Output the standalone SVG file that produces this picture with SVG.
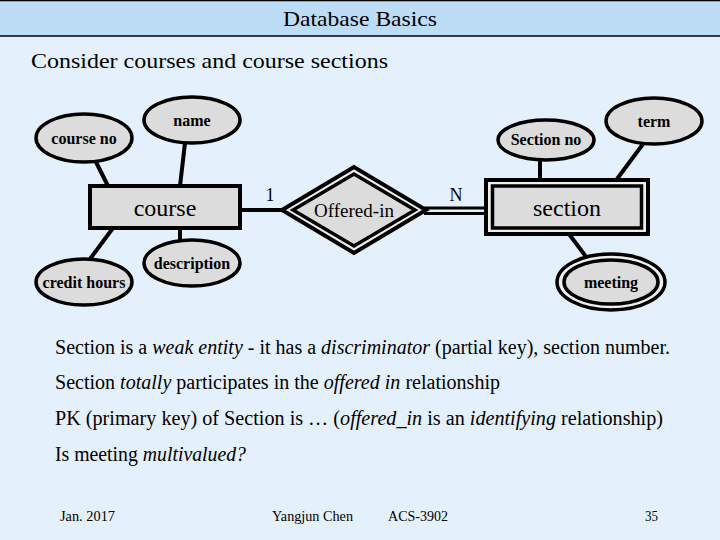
<svg xmlns="http://www.w3.org/2000/svg" width="720" height="540" viewBox="0 0 720 540">
<style>
.t{font-family:"Liberation Serif","Times New Roman","DejaVu Serif",serif;fill:#000}
.lbl{font-size:16px;font-weight:bold;text-anchor:middle}
.ent{font-size:24px;text-anchor:middle}
.att{fill:#dcdcdc;stroke:#000;stroke-width:3.5}
.ln{stroke:#000;stroke-width:4;fill:none}
.body{font-size:20px}
.ft{font-size:14px}
</style>
<rect x="0" y="0" width="720" height="540" fill="#e4f0fb"/>
<rect x="0" y="0" width="720" height="36" fill="#bddcf5"/>
<line x1="0" y1="0.5" x2="720" y2="0.5" stroke="#000" stroke-width="1.5"/>
<line x1="0" y1="36" x2="720" y2="36" stroke="#000" stroke-width="1.5"/>
<text class="t" x="360" y="26" font-size="22" text-anchor="middle" textLength="154" lengthAdjust="spacingAndGlyphs">Database Basics</text>
<text class="t" x="31" y="68" font-size="22" textLength="357" lengthAdjust="spacingAndGlyphs">Consider courses and course sections</text>

<g id="connectors">
<line class="ln" x1="96" y1="162" x2="108" y2="186"/>
<line class="ln" x1="185" y1="143" x2="180" y2="186"/>
<line class="ln" x1="113" y1="228" x2="90" y2="259"/>
<line class="ln" x1="180" y1="228" x2="180" y2="240"/>
<line class="ln" x1="241" y1="210" x2="283" y2="210"/>
<line stroke="#000" stroke-width="3" x1="424" y1="208" x2="485" y2="208"/>
<line stroke="#000" stroke-width="3" x1="424" y1="213.5" x2="485" y2="213.5"/>
<line class="ln" x1="540" y1="160" x2="540" y2="179"/>
<line class="ln" x1="643" y1="144" x2="617" y2="179"/>
<line class="ln" x1="569" y1="234" x2="587" y2="258"/>
<text class="t" x="270" y="201" font-size="18" text-anchor="middle">1</text>
<text class="t" x="456" y="201" font-size="18" text-anchor="middle">N</text>
</g>

<g id="course_no">
<ellipse class="att" cx="84" cy="138" rx="48" ry="24"/>
<text class="t lbl" x="84" y="144">course no</text>
</g>
<g id="name">
<ellipse class="att" cx="192" cy="120" rx="48" ry="23"/>
<text class="t lbl" x="192" y="126">name</text>
</g>
<g id="course">
<rect x="90" y="186" width="150" height="42" fill="#dcdcdc" stroke="#000" stroke-width="4"/>
<text class="t ent" x="165" y="216">course</text>
</g>
<g id="credit_hours">
<ellipse class="att" cx="84" cy="282" rx="48" ry="23"/>
<text class="t lbl" x="84" y="288">credit hours</text>
</g>
<g id="description">
<ellipse class="att" cx="192" cy="263" rx="48" ry="23"/>
<text class="t lbl" x="192" y="269">description</text>
</g>
<g id="offered_in">
<polygon points="282,210 354,167 426,210 354,253" fill="#eeeeee" stroke="#000" stroke-width="4" stroke-linejoin="miter"/>
<polygon points="293,210 354,174 415,210 354,246" fill="#dcdcdc" stroke="#000" stroke-width="3.5"/>
<text class="t" x="354" y="217" font-size="19" text-anchor="middle">Offered-in</text>
</g>
<g id="section">
<rect x="486" y="180" width="162" height="54" fill="#eeeeee" stroke="#000" stroke-width="4"/>
<rect x="492.5" y="186" width="149" height="42" fill="#dcdcdc" stroke="#000" stroke-width="3.5"/>
<text class="t ent" x="567" y="216">section</text>
</g>
<g id="section_no">
<ellipse class="att" cx="546" cy="140" rx="48" ry="20"/>
<text class="t lbl" x="546" y="145">Section no</text>
</g>
<g id="term">
<ellipse class="att" cx="654" cy="121" rx="48" ry="23"/>
<text class="t lbl" x="654" y="127">term</text>
</g>
<g id="meeting">
<ellipse cx="611" cy="282" rx="54" ry="28" fill="#eeeeee" stroke="#000" stroke-width="3.5"/>
<ellipse class="att" cx="611" cy="282" rx="47" ry="22"/>
<text class="t lbl" x="611" y="288">meeting</text>
</g>

<text class="t body" x="55" y="354" textLength="615" lengthAdjust="spacingAndGlyphs">Section is a <tspan font-style="italic">weak entity</tspan> - it has a <tspan font-style="italic">discriminator</tspan> (partial key), section number.</text>
<text class="t body" x="55" y="389" textLength="445" lengthAdjust="spacingAndGlyphs">Section <tspan font-style="italic">totally</tspan> participates in the <tspan font-style="italic">offered in</tspan> relationship</text>
<text class="t body" x="55" y="425" textLength="608" lengthAdjust="spacingAndGlyphs">PK (primary key) of Section is …  (<tspan font-style="italic">offered_in</tspan> is an <tspan font-style="italic">identifying</tspan> relationship)</text>
<text class="t body" x="55" y="461" textLength="191" lengthAdjust="spacingAndGlyphs">Is meeting <tspan font-style="italic">multivalued?</tspan></text>

<text class="t ft" x="60" y="521" textLength="55" lengthAdjust="spacingAndGlyphs">Jan. 2017</text>
<text class="t ft" x="272" y="521" textLength="81" lengthAdjust="spacingAndGlyphs">Yangjun Chen</text>
<text class="t ft" x="388" y="521" textLength="60" lengthAdjust="spacingAndGlyphs">ACS-3902</text>
<text class="t ft" x="645" y="521" textLength="13" lengthAdjust="spacingAndGlyphs">35</text>
</svg>
